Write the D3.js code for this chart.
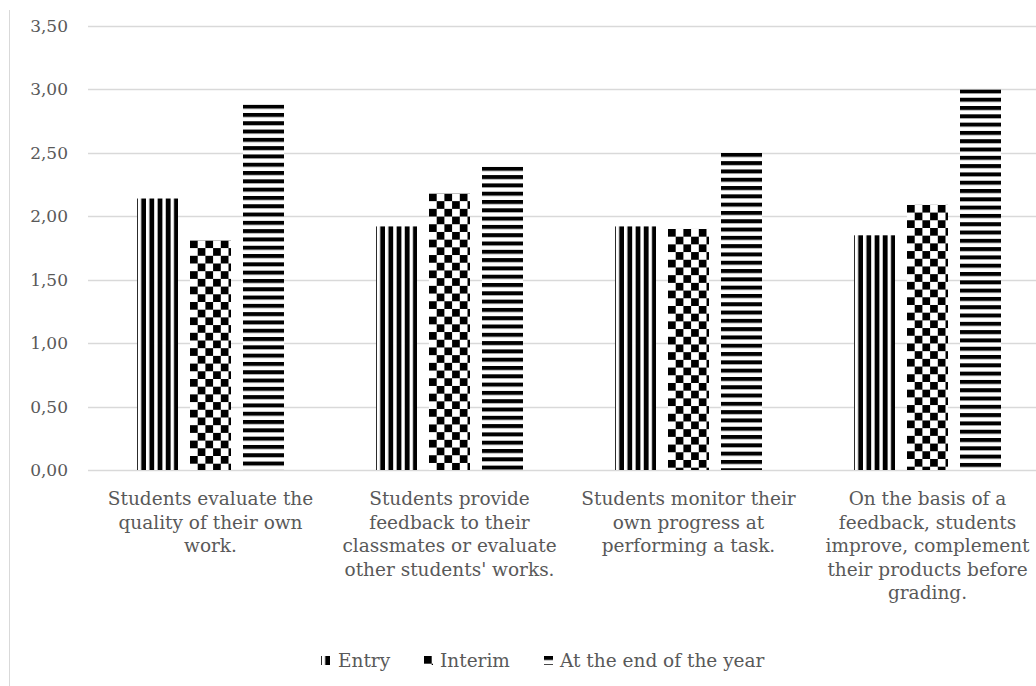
<!DOCTYPE html>
<html>
<head>
<meta charset="utf-8">
<script src="https://cdn.jsdelivr.net/npm/d3@7"></script>
<style>
  html, body { margin: 0; padding: 0; background: #fff; }
  svg { display: block; }
  text { font-family: "DejaVu Serif", serif; fill: #595959; }
</style>
</head>
<body>
<svg id="chart" width="1036" height="686"></svg>
<script>
// Category labels, wrapped into lines
const categoryLines = [
  ["Students evaluate the", "quality of their own", "work."],
  ["Students provide", "feedback to their", "classmates or evaluate", "other students' works."],
  ["Students monitor their", "own progress at", "performing a task."],
  ["On the basis of a", "feedback, students", "improve, complement", "their products before", "grading."]
];
const categories = categoryLines.map(l => l.join(" "));

const seriesNames = ["Entry", "Interim", "At the end of the year"];
const entryValues   = [2.14, 1.92, 1.92, 1.85];
const interimValues = [1.81, 2.18, 1.90, 2.09];
const endValues     = [2.88, 2.39, 2.50, 3.00];

const yTicks = [0, 0.5, 1, 1.5, 2, 2.5, 3, 3.5];

const seriesValues = [entryValues, interimValues, endValues];
const patternIds = ["pat-vert", "pat-check", "pat-horiz"];

const svg = d3.select("#chart");
const W = 1036, H = 686;

const locale = d3.formatLocale({ decimal: ",", thousands: ".", grouping: [3], currency: ["", ""] });
const fmt = locale.format(".2f");

// Fill patterns
const defs = svg.append("defs");
const pv = defs.append("pattern").attr("id", "pat-vert")
  .attr("patternUnits", "userSpaceOnUse").attr("x", 0.8).attr("width", 8.2).attr("height", 10);
pv.append("rect").attr("width", 8.2).attr("height", 10).attr("fill", "#fff");
pv.append("rect").attr("x", 3.4).attr("width", 4.8).attr("height", 10).attr("fill", "#000");

const pc = defs.append("pattern").attr("id", "pat-check")
  .attr("patternUnits", "userSpaceOnUse").attr("width", 15.4).attr("height", 15.4);
pc.append("rect").attr("width", 15.4).attr("height", 15.4).attr("fill", "#fff");
pc.append("rect").attr("width", 7.7).attr("height", 7.7).attr("fill", "#000");
pc.append("rect").attr("x", 7.7).attr("y", 7.7).attr("width", 7.7).attr("height", 7.7).attr("fill", "#000");

const ph = defs.append("pattern").attr("id", "pat-horiz")
  .attr("patternUnits", "userSpaceOnUse").attr("width", 10).attr("height", 8.3);
ph.append("rect").attr("width", 10).attr("height", 8.3).attr("fill", "#fff");
ph.append("rect").attr("width", 10).attr("height", 4).attr("fill", "#000");

// Scales
const y = d3.scaleLinear().domain([0, 3.5]).range([470, 26]);
const x0 = d3.scaleBand().domain(categories).range([91, 1047]).paddingInner(0).paddingOuter(0);
const x1 = d3.scaleBand().domain(seriesNames).range([46, 193]).paddingInner(12 / 53).paddingOuter(0);

// Chart area border (left edge)
svg.append("line").attr("x1", 9.5).attr("x2", 9.5).attr("y1", 10).attr("y2", H)
  .attr("stroke", "#d9d9d9").attr("stroke-width", 1);

// Gridlines
svg.append("g").selectAll("line").data(yTicks).join("line")
  .attr("x1", 88).attr("x2", W)
  .attr("y1", d => Math.round(y(d)) + 0.5).attr("y2", d => Math.round(y(d)) + 0.5)
  .attr("stroke", "#d9d9d9").attr("stroke-width", 1.3);

// Y axis labels
const yAxis = d3.axisLeft(y).tickValues(yTicks).tickFormat(fmt).tickSize(0).tickPadding(0);
const yg = svg.append("g").attr("transform", "translate(68,0)").call(yAxis);
yg.select(".domain").remove();
yg.selectAll("text").attr("font-size", 17).attr("fill", "#595959")
  .style("font-family", "'DejaVu Serif', serif");

// Bars
const groups = svg.append("g").selectAll("g").data(categories).join("g")
  .attr("transform", d => `translate(${x0(d)},0)`);

groups.each(function (cat, ci) {
  const g = d3.select(this);
  seriesNames.forEach((s, si) => {
    const v = seriesValues[si][ci];
    const bx = x1(s), by = y(v);
    g.append("g").attr("transform", `translate(${bx},${by})`)
      .append("rect")
      .attr("width", x1.bandwidth())
      .attr("height", y(0) - by)
      .attr("fill", `url(#${patternIds[si]})`);
  });
});

// Category labels
const lineH = 23.5;
const catG = svg.append("g");
categories.forEach((c, ci) => {
  const cx = x0(c) + x0.bandwidth() / 2;
  const t = catG.append("text").attr("text-anchor", "middle").attr("font-size", 18.5)
    .attr("transform", `translate(${cx},505)`);
  categoryLines[ci].forEach((ln, li) => {
    t.append("tspan").attr("x", 0).attr("y", li * lineH).text(ln);
  });
});

// Legend
const legendItems = [
  { name: seriesNames[0], sx: 321, tx: 338 },
  { name: seriesNames[1], sx: 424, tx: 440 },
  { name: seriesNames[2], sx: 544, tx: 560 }
];
const lg = svg.append("g");
legendItems.forEach((it, i) => {
  lg.append("g").attr("transform", `translate(${it.sx},656)`)
    .append("rect").attr("width", 9).attr("height", 9)
    .attr("fill", `url(#${patternIds[i]})`);
  lg.append("text").attr("x", it.tx).attr("y", 667).attr("font-size", 18.5).text(it.name);
});
</script>
</body>
</html>
